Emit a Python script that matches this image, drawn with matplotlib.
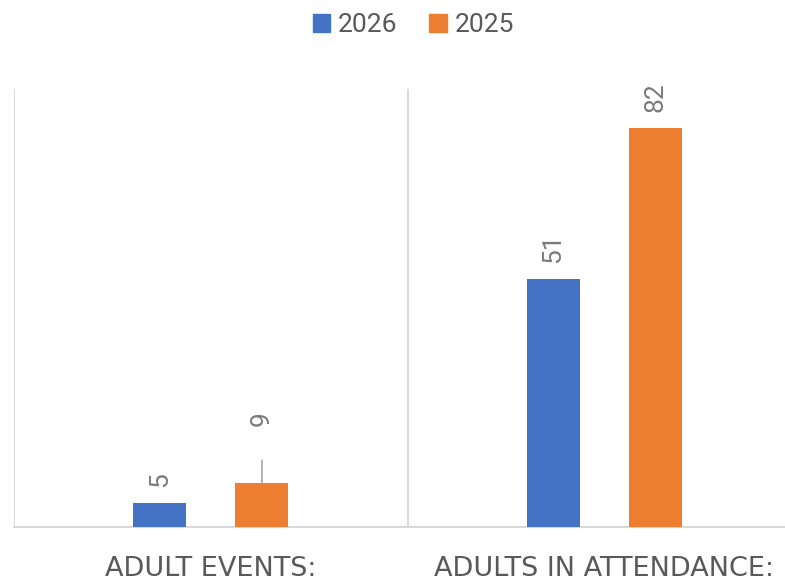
import matplotlib
matplotlib.use("Agg")
import matplotlib.pyplot as plt
import numpy as np
from matplotlib.patches import Patch

# ---- data ----
categories = ["ADULT EVENTS:", "ADULTS IN ATTENDANCE:"]
series_names = ["2026", "2025"]
values_2026 = [5, 51]
values_2025 = [9, 82]

colors = {"2026": "#4472C4", "2025": "#ED7D31"}
label_color = "#7a7a7a"
text_color = "#595959"
grid_color = "#d9d9d9"

W, H = 785, 581
fig = plt.figure(figsize=(W / 100, H / 100), dpi=100)
ax = fig.add_axes([14 / W, 54 / H, 787 / W, 438 / H])

x = np.arange(len(categories))
bar_w = 0.135
offset = 0.13

b1 = ax.bar(x - offset, values_2026, bar_w, color=colors["2026"], zorder=3)
b2 = ax.bar(x + offset, values_2025, bar_w, color=colors["2025"], zorder=3)

ax.set_xlim(-0.5, len(categories) - 0.5)
ax.set_ylim(0, 90)

# category separators (vertical gridlines)
for xv in np.arange(-0.5, len(categories), 1.0):
    ax.axvline(xv, color=grid_color, lw=1.5, zorder=1)

for s in ["top", "right", "left"]:
    ax.spines[s].set_visible(False)
ax.spines["bottom"].set_color(grid_color)
ax.spines["bottom"].set_linewidth(1.5)
ax.set_yticks([])
ax.set_xticks(x)
ax.set_xticklabels(categories, fontsize=19.5, color=text_color,
                   family=["DejaVu Sans"])
ax.tick_params(axis="x", length=0, pad=21)

# data labels
lab_font = dict(family=["Roboto", "DejaVu Sans"], fontsize=19, color=label_color)
def add_labels(bars, vals, raised=None):
    raised = raised or {}
    for i, (r, v) in enumerate(zip(bars, vals)):
        cx = r.get_x() + r.get_width() / 2
        off = raised.get(i, 11.5)
        ax.annotate(str(v), xy=(cx, v), xytext=(0, off), textcoords="offset points",
                    rotation=90, ha="center", va="bottom", **lab_font)
        if i in raised:
            ax.annotate("", xy=(cx, v), xytext=(0, 16.5), textcoords="offset points",
                        arrowprops=dict(arrowstyle="-", color="#a6a6a6", lw=1.2,
                                        shrinkA=0, shrinkB=0))

add_labels(b1, values_2026)
add_labels(b2, values_2025, raised={0: 41})

# legend
handles = [Patch(color=colors[n]) for n in series_names]
fig.legend(handles, series_names, loc="center", bbox_to_anchor=(413.5 / W, 1 - 25 / H),
           ncol=2, frameon=False, prop=dict(family=["Roboto", "DejaVu Sans"], size=19),
           labelcolor=text_color, handlelength=0.65, handleheight=0.65,
           handletextpad=0.3, columnspacing=1.2, borderpad=0, borderaxespad=0)

fig.savefig("out.png", dpi=100)
